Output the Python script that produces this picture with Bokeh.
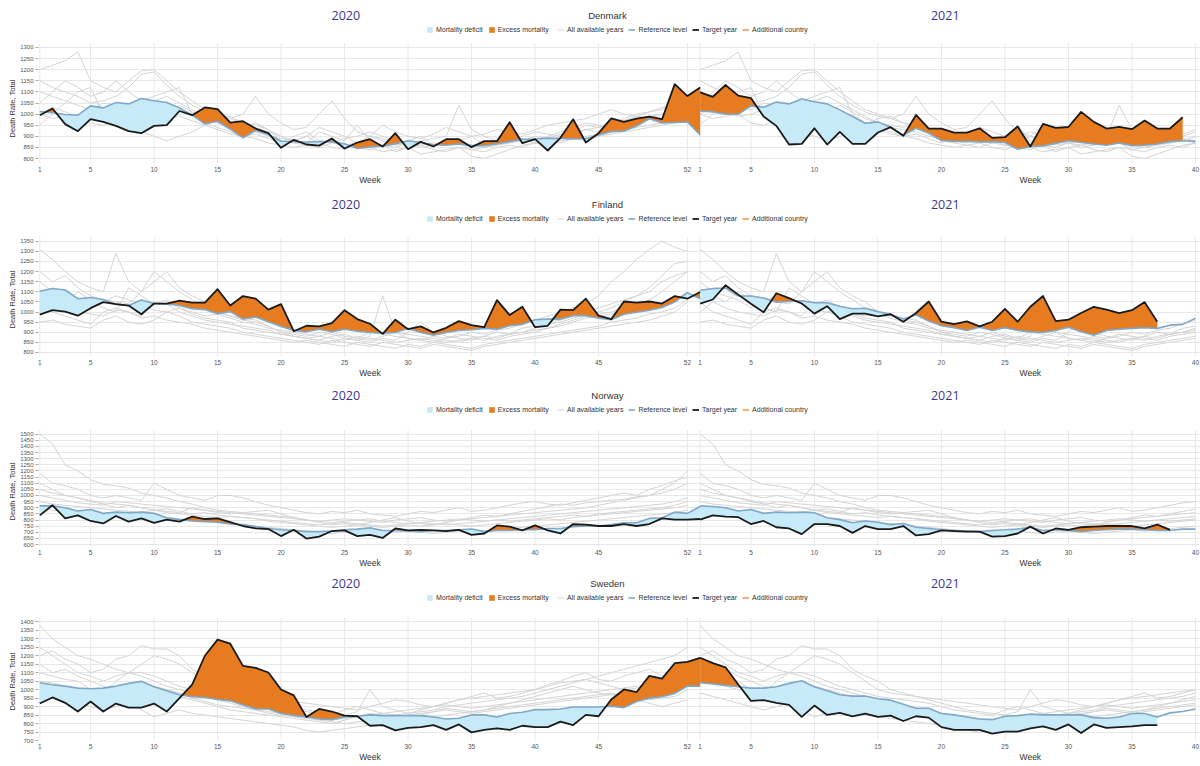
import numpy as np
from bokeh.plotting import figure
from bokeh.layouts import column
from bokeh.models import (Range1d, FixedTicker, Label, Legend, LegendItem,
                          LinearAxis, Title)
from bokeh.embed import file_html
from bokeh.resources import INLINE

# week ticks of the two panels, the 2021 weeks are drawn after the 2020 ones
ticks_2020 = [1, 5, 10, 15, 20, 25, 30, 35, 40, 45, 52]
ticks_2021 = [1, 5, 10, 15, 20, 25, 30, 35, 40]

# ---- Denmark ----
dk_target_2020 = [995, 1025, 955, 923, 977, 965, 947, 923, 914, 947,
                  950, 1014, 995, 1030, 1022, 962, 968, 935, 914, 848,
                  884, 863, 858, 890, 845, 872, 887, 854, 914, 842,
                  875, 854, 887, 887, 851, 878, 878, 963, 869, 887,
                  836, 893, 977, 872, 914, 981, 965, 980, 989, 977,
                  1135, 1081, 1120]
dk_ref_2020 = [1012, 1006, 998, 995, 1037, 1028, 1052, 1046, 1070, 1060,
               1052, 1028, 995, 956, 968, 932, 893, 926, 908, 878,
               876, 874, 876, 876, 866, 845, 852, 856, 866, 880,
               872, 862, 860, 866, 858, 858, 866, 876, 886, 888,
               892, 890, 888, 890, 906, 921, 924, 946, 979, 960,
               962, 965, 906]
dk_target_2021 = [1098, 1078, 1131, 1083, 1072, 989, 947, 863, 866, 936,
                  863, 920, 866, 866, 917, 941, 902, 996, 935, 935,
                  917, 917, 936, 893, 896, 944, 854, 956, 938, 942,
                  1010, 965, 935, 942, 932, 971, 935, 935, 986]
dk_ref_2021 = [1014, 1010, 1000, 999, 1037, 1031, 1054, 1046, 1068, 1056,
               1046, 1019, 989, 959, 965, 941, 905, 936, 914, 881,
               877, 877, 875, 876, 872, 842, 854, 857, 868, 880,
               872, 865, 860, 870, 858, 860, 865, 876, 880, 877]
dk_years = [
    [1200, 1220, 1240, 1280, 1150, 1120, 1100, 1150, 1195, 1200,
     1150, 1100, 1060, 1020, 1000, 980, 960, 950, 930, 900,
     880, 900, 870, 880, 860, 870, 900, 880, 860, 870,
     850, 860, 880, 870, 840, 850, 860, 870, 880, 900,
     890, 910, 920, 930, 940, 950, 960, 980, 990, 1000, 1010, 1000],
    [1150, 1120, 1100, 1080, 1050, 1060, 1080, 1120, 1180, 1190,
     1130, 1080, 1040, 1010, 990, 980, 1000, 1080, 1000, 960,
     930, 940, 1000, 1060, 980, 920, 900, 890, 870, 880,
     900, 860, 870, 880, 900, 860, 870, 880, 890, 870,
     880, 900, 910, 930, 920, 950, 970, 990, 980, 1000, 1020, 1040],
    [1100, 1080, 1060, 1040, 1020, 1050, 1040, 1030, 1020, 1060,
     1080, 1050, 1020, 990, 960, 940, 930, 920, 900, 890,
     880, 870, 920, 900, 880, 950, 880, 860, 850, 870,
     880, 890, 900, 1040, 930, 900, 880, 870, 900, 920,
     910, 900, 920, 950, 940, 960, 980, 1000, 1010, 1030, 1040, 1050],
    [1000, 980, 990, 1000, 960, 950, 970, 1000, 980, 990,
     1000, 1040, 1010, 980, 960, 950, 940, 960, 930, 880,
     870, 860, 850, 870, 860, 850, 840, 860, 830, 850,
     820, 830, 840, 850, 810, 800, 820, 840, 860, 870,
     880, 870, 890, 900, 910, 920, 930, 940, 950, 960, 970, 980],
    [950, 1000, 1050, 1100, 1120, 1000, 960, 940, 920, 900,
     880, 900, 920, 950, 980, 990, 960, 940, 920, 900,
     880, 900, 940, 920, 900, 870, 900, 950, 920, 900,
     890, 910, 940, 920, 900, 910, 930, 920, 910, 930,
     950, 960, 970, 980, 1000, 1020, 1000, 990, 980, 970, 960, 980],
    [1050, 1100, 1150, 1120, 1080, 1100, 1150, 1100, 1060, 1080,
     1100, 1120, 1000, 960, 940, 920, 900, 910, 890, 870,
     900, 920, 880, 870, 890, 900, 920, 900, 880, 870,
     860, 870, 860, 880, 860, 850, 870, 900, 890, 880,
     900, 920, 940, 960, 950, 940, 970, 990, 1010, 1020, 1050, 1080],
    [1000, 1030, 1010, 990, 1000, 1020, 1000, 990, 1010, 1000,
     980, 990, 970, 950, 930, 910, 900, 890, 870, 860,
     850, 860, 870, 850, 840, 860, 850, 830, 840, 850,
     860, 840, 830, 850, 840, 830, 850, 860, 850, 870,
     860, 880, 890, 880, 900, 910, 920, 930, 940, 950, 960, 1000],
]
dk_yticks = list(range(800, 1301, 50))

# ---- Finland ----
fi_target_2020 = [987, 1009, 1002, 982, 1019, 1049, 1039, 1032, 989, 1042,
                  1042, 1056, 1046, 1046, 1113, 1032, 1079, 1066, 1012, 1039,
                  905, 932, 929, 945, 1009, 965, 942, 892, 962, 915,
                  929, 899, 922, 955, 935, 925, 1059, 985, 1026, 925,
                  932, 1012, 1009, 1066, 982, 965, 1052, 1046, 1052, 1042,
                  1079, 1066, 1099]
fi_ref_2020 = [1103, 1116, 1109, 1066, 1072, 1062, 1039, 1032, 1059, 1042,
               1040, 1032, 1016, 1012, 992, 1002, 965, 975, 952, 929,
               909, 902, 915, 902, 915, 905, 899, 895, 899, 918,
               899, 885, 899, 909, 912, 919, 915, 932, 939, 962,
               965, 965, 982, 982, 969, 962, 989, 999, 1009, 1022,
               1049, 1096, 1066]
fi_target_2021 = [1042, 1062, 1133, 1086, 1041, 999, 1093, 1069, 1042, 992,
                  1029, 965, 992, 992, 979, 989, 952, 995, 1052, 952,
                  940, 954, 929, 952, 1016, 952, 1026, 1079, 955, 962,
                  995, 1026, 1012, 995, 1009, 1049, 952]
fi_ref_2021 = [1108, 1116, 1119, 1079, 1079, 1069, 1049, 1052, 1056, 1046,
               1046, 1029, 1016, 1019, 1002, 989, 965, 985, 955, 932,
               922, 909, 925, 909, 922, 909, 902, 899, 909, 925,
               902, 885, 909, 915, 919, 922, 919, 935, 939, 969]
fi_years = [
    [1310, 1260, 1200, 1150, 1120, 1100, 1290, 1150, 1100, 1150,
     1200, 1120, 1080, 1050, 1000, 980, 960, 950, 930, 900,
     880, 870, 860, 850, 870, 860, 880, 1080, 900, 870,
     860, 850, 870, 880, 900, 890, 910, 920, 940, 960,
     980, 1000, 1020, 1040, 1080, 1150, 1200, 1260, 1310, 1350, 1320, 1300],
    [1200, 1150, 1180, 1120, 1080, 1060, 1050, 1040, 1100, 1200,
     1150, 1100, 1060, 1020, 1000, 980, 970, 960, 930, 900,
     890, 880, 900, 890, 870, 860, 850, 870, 860, 900,
     950, 900, 880, 870, 860, 880, 900, 890, 920, 930,
     950, 960, 980, 1000, 1020, 1040, 1060, 1080, 1120, 1180, 1240, 1250],
    [1050, 1000, 980, 960, 940, 1000, 1020, 1000, 980, 1050,
     1040, 1000, 980, 960, 950, 940, 930, 920, 910, 890,
     880, 870, 860, 880, 890, 870, 860, 880, 900, 890,
     880, 870, 860, 850, 870, 860, 880, 890, 900, 910,
     920, 930, 950, 970, 980, 990, 1000, 1010, 1020, 1040, 1060, 1100],
    [950, 960, 940, 930, 920, 960, 980, 950, 940, 960,
     1000, 980, 950, 940, 930, 920, 900, 890, 880, 870,
     860, 850, 840, 860, 850, 840, 830, 850, 840, 830,
     820, 840, 830, 820, 810, 830, 840, 850, 860, 870,
     880, 890, 900, 910, 920, 930, 940, 950, 960, 980, 1000, 1050],
    [1100, 1080, 1050, 1100, 1060, 1020, 1000, 1120, 1080, 1040,
     1060, 1020, 1000, 980, 990, 970, 950, 940, 920, 910,
     900, 890, 880, 900, 880, 870, 900, 890, 880, 870,
     860, 880, 870, 890, 880, 870, 860, 880, 890, 900,
     920, 940, 960, 980, 990, 1000, 1020, 1040, 1060, 1100, 1150, 1200],
    [1150, 1100, 1080, 1060, 1020, 1050, 1080, 1060, 1040, 1010,
     1000, 1020, 990, 970, 960, 950, 920, 910, 900, 890,
     880, 870, 880, 870, 860, 880, 870, 860, 850, 860,
     870, 860, 850, 860, 870, 880, 870, 890, 900, 920,
     940, 950, 970, 990, 1000, 1020, 1050, 1080, 1100, 1150, 1180, 1200],
    [1000, 1050, 1020, 1000, 990, 980, 1010, 1000, 970, 980,
     960, 950, 940, 920, 910, 900, 890, 880, 870, 860,
     850, 860, 850, 840, 830, 850, 840, 830, 820, 840,
     830, 850, 840, 830, 820, 840, 850, 860, 870, 880,
     890, 900, 910, 920, 930, 950, 960, 970, 990, 1000, 1020, 1060],
]
fi_yticks = list(range(800, 1351, 50))

# ---- Norway ----
no_target_2020 = [838, 920, 813, 838, 792, 772, 833, 787, 813, 777,
                  803, 787, 828, 808, 813, 782, 751, 731, 726, 669,
                  720, 649, 664, 710, 715, 669, 679, 654, 731, 715,
                  720, 715, 710, 720, 679, 690, 756, 746, 715, 756,
                  715, 690, 767, 762, 751, 751, 767, 751, 767, 813,
                  803, 803, 808]
no_ref_2020 = [915, 915, 900, 874, 885, 854, 864, 859, 864, 854,
               818, 803, 792, 787, 782, 767, 762, 746, 731, 720,
               715, 705, 705, 710, 720, 726, 736, 715, 715, 710,
               705, 715, 715, 720, 726, 705, 715, 715, 720, 720,
               731, 731, 746, 751, 751, 762, 777, 777, 813, 818,
               864, 854, 910]
no_target_2021 = [803, 838, 828, 823, 767, 792, 741, 731, 685, 767,
                  767, 751, 695, 751, 726, 726, 751, 674, 685, 715,
                  710, 705, 705, 664, 669, 690, 746, 690, 731, 720,
                  741, 746, 751, 751, 751, 731, 762, 720]
no_ref_2021 = [915, 910, 900, 874, 885, 854, 864, 859, 864, 859,
               818, 803, 777, 792, 782, 762, 772, 741, 731, 720,
               715, 710, 705, 715, 720, 726, 741, 715, 720, 715,
               705, 715, 720, 726, 726, 720, 715, 715, 726, 726]
no_years = [
    [1500, 1420, 1250, 1200, 1130, 1090, 1080, 1060, 1020, 1000,
     980, 950, 930, 900, 880, 870, 860, 850, 840, 830,
     820, 800, 790, 800, 810, 800, 790, 780, 800, 810,
     820, 800, 790, 800, 810, 820, 830, 840, 850, 860,
     870, 880, 890, 900, 920, 940, 960, 980, 1000, 1050, 1100, 1200],
    [1180, 1100, 1080, 1050, 1000, 980, 1000, 980, 960, 1100,
     1050, 1000, 980, 960, 1000, 1000, 980, 950, 920, 900,
     880, 860, 850, 870, 860, 880, 850, 840, 830, 850,
     870, 860, 880, 900, 870, 880, 900, 920, 940, 950,
     930, 920, 940, 960, 980, 1000, 1020, 1000, 1050, 1080, 1120, 1150],
    [1000, 980, 960, 940, 930, 920, 950, 940, 930, 920,
     910, 900, 890, 880, 870, 860, 850, 840, 830, 820,
     810, 800, 790, 780, 790, 800, 810, 790, 780, 770,
     780, 790, 800, 810, 800, 790, 800, 810, 820, 830,
     840, 850, 860, 870, 880, 890, 900, 910, 920, 930, 950, 980],
    [900, 880, 870, 860, 850, 840, 860, 850, 840, 830,
     820, 810, 800, 790, 780, 770, 760, 750, 740, 730,
     720, 710, 700, 690, 700, 710, 700, 690, 700, 710,
     700, 690, 700, 710, 720, 710, 720, 730, 740, 750,
     760, 770, 780, 790, 800, 810, 820, 830, 840, 850, 860, 880],
    [1050, 1020, 1000, 980, 960, 940, 930, 920, 900, 880,
     870, 860, 900, 880, 860, 850, 860, 870, 880, 850,
     820, 800, 780, 760, 770, 760, 780, 800, 820, 790,
     770, 760, 780, 800, 820, 840, 830, 850, 870, 890,
     910, 930, 920, 940, 950, 960, 970, 990, 1000, 1020, 1050, 1100],
    [1100, 1050, 1000, 980, 950, 930, 900, 920, 900, 880,
     890, 870, 850, 860, 840, 830, 820, 810, 800, 790,
     780, 770, 760, 770, 780, 770, 760, 750, 760, 770,
     780, 770, 760, 770, 780, 790, 800, 790, 800, 810,
     820, 830, 840, 830, 850, 860, 870, 880, 890, 900, 920, 950],
    [950, 930, 920, 910, 900, 890, 880, 870, 860, 880,
     860, 850, 840, 830, 820, 830, 820, 810, 790, 780,
     770, 760, 750, 740, 750, 760, 750, 740, 750, 760,
     750, 760, 770, 760, 750, 760, 770, 780, 790, 800,
     810, 800, 820, 830, 840, 850, 860, 870, 880, 890, 900, 920],
]
no_yticks = list(range(600, 1501, 50))

# ---- Sweden ----
se_target_2020 = [918, 954, 922, 871, 930, 871, 918, 894, 894, 918,
                  871, 950, 1029, 1200, 1295, 1271, 1140, 1128, 1101, 1001,
                  966, 839, 886, 871, 847, 843, 787, 791, 760, 775,
                  779, 791, 763, 795, 748, 763, 771, 763, 787, 779,
                  779, 811, 791, 851, 843, 942, 1001, 986, 1081, 1065,
                  1156, 1164, 1188]
se_ref_2020 = [1041, 1029, 1021, 1009, 1005, 1009, 1021, 1037, 1049, 1017,
               993, 970, 958, 954, 942, 934, 910, 886, 886, 859,
               847, 839, 827, 823, 839, 843, 851, 847, 847, 847,
               847, 839, 827, 831, 851, 851, 839, 859, 867, 882,
               882, 886, 898, 898, 898, 902, 894, 930, 950, 958,
               978, 1021, 1021]
se_target_2021 = [1188, 1156, 1132, 1030, 934, 938, 922, 910, 839, 906,
                  851, 863, 843, 859, 839, 847, 815, 843, 835, 779,
                  763, 763, 763, 740, 752, 752, 771, 783, 763, 795,
                  744, 795, 775, 779, 783, 791, 791]
se_ref_2021 = [1041, 1033, 1025, 1017, 1009, 1009, 1017, 1037, 1053, 1017,
               993, 970, 962, 962, 946, 938, 914, 890, 890, 859,
               851, 839, 827, 823, 843, 847, 855, 851, 851, 851,
               851, 835, 831, 839, 859, 859, 839, 863, 871, 886]
se_years = [
    [1380, 1300, 1250, 1200, 1180, 1150, 1120, 1100, 1100, 1080,
     1050, 1020, 1000, 980, 960, 950, 940, 930, 920, 900,
     880, 870, 860, 850, 880, 900, 880, 860, 850, 860,
     870, 880, 900, 910, 920, 930, 940, 950, 960, 980,
     1000, 1020, 1040, 1060, 1080, 1100, 1120, 1140, 1160, 1180, 1200, 1250],
    [1200, 1230, 1180, 1150, 1100, 1120, 1180, 1200, 1260, 1240,
     1240, 1200, 1120, 1080, 1050, 1000, 980, 960, 940, 920,
     900, 880, 870, 860, 850, 870, 1000, 900, 880, 860,
     880, 900, 920, 940, 960, 980, 950, 960, 980, 1000,
     1030, 1050, 1080, 1100, 1060, 1050, 1080, 1100, 1120, 1080, 1100, 1150],
    [1100, 1080, 1060, 1050, 1000, 980, 1050, 1100, 1150, 1200,
     1180, 1150, 1100, 1050, 1000, 980, 970, 960, 950, 940,
     930, 920, 910, 900, 890, 880, 900, 920, 940, 930,
     910, 900, 920, 940, 950, 960, 970, 980, 990, 1000,
     1020, 1040, 1050, 1060, 1040, 1020, 1000, 1010, 1020, 1040, 1060, 1080],
    [980, 960, 940, 920, 900, 880, 900, 920, 880, 840,
     860, 880, 860, 850, 840, 830, 820, 810, 800, 790,
     780, 760, 750, 760, 770, 780, 790, 800, 810, 820,
     830, 840, 850, 860, 870, 880, 890, 900, 910, 920,
     930, 940, 950, 960, 970, 980, 960, 940, 920, 900, 920, 940],
    [1050, 1040, 1020, 1000, 990, 1000, 1010, 1020, 1050, 1000,
     980, 960, 940, 920, 900, 880, 870, 860, 850, 840,
     830, 820, 810, 800, 820, 840, 860, 850, 840, 830,
     850, 870, 890, 880, 870, 880, 900, 920, 940, 960,
     980, 1000, 1020, 1000, 980, 970, 960, 950, 940, 950, 960, 1000],
    [1250, 1200, 1150, 1100, 1080, 1050, 1080, 1100, 1080, 1050,
     1020, 1000, 980, 960, 940, 920, 900, 880, 870, 860,
     850, 840, 830, 820, 830, 840, 850, 860, 870, 880,
     890, 900, 910, 900, 890, 900, 910, 920, 930, 940,
     950, 960, 970, 980, 990, 1000, 1010, 1020, 1030, 1050, 1080, 1100],
    [1150, 1100, 1120, 1080, 1050, 1020, 1000, 980, 1000, 1020,
     1000, 980, 950, 930, 910, 900, 890, 880, 860, 850,
     840, 830, 820, 810, 800, 810, 820, 830, 840, 850,
     860, 870, 880, 870, 860, 870, 880, 890, 900, 910,
     920, 930, 940, 950, 960, 970, 980, 990, 1000, 1010, 1020, 1040],
]
se_yticks = list(range(700, 1401, 50))

ORANGE = "#e77b1f"
BLUE_FILL = "#c7eaf8"
REF_COLOR = "#7ea7c8"
GRAY = "#d4d4d4"
GRID = "#e8e8e8"
TITLE_COLOR = "#3a358f"
FONT = "Liberation Sans"
LEFT = 38  # px left of the frame, for the y axis


def split_fill(x, target, ref):
    # add the crossing points so the two fills meet exactly
    xs, t, r = [], [], []
    for i in range(len(target)):
        if i > 0:
            d0 = target[i - 1] - ref[i - 1]
            d1 = target[i] - ref[i]
            if d0 * d1 < 0:
                f = d0 / (d0 - d1)
                xs.append(x[i - 1] + f * (x[i] - x[i - 1]))
                yc = ref[i - 1] + f * (ref[i] - ref[i - 1])
                t.append(yc)
                r.append(yc)
        xs.append(x[i])
        t.append(target[i])
        r.append(ref[i])
    t = np.array(t, dtype=float)
    r = np.array(r, dtype=float)
    return np.array(xs), np.maximum(t, r), np.minimum(t, r), r


def no_ticks(axis):
    axis.major_tick_out = 0
    axis.major_tick_in = 0
    axis.minor_tick_out = 0
    axis.minor_tick_in = 0
    axis.major_tick_line_color = None
    axis.minor_tick_line_color = None
    axis.axis_line_color = None


def country_row(country, t20, r20, t21, r21, years, yticks, ylo, yhi,
                height, top, fb, title_c, legend_c, ylab_off):
    # the frame reaches the top of the figure so the headings stay inside it;
    # the data part starts `top` px down
    k = (fb - top) / (yhi - ylo)
    p = figure(width=1200, height=height, x_range=Range1d(0.9, 92.4),
               y_range=Range1d(ylo, yhi + top / k), output_backend="svg",
               toolbar_location=None, min_border_left=LEFT, min_border_right=0,
               min_border_top=0, min_border_bottom=height - fb)
    p.outline_line_color = None
    p.xgrid.visible = False
    p.ygrid.grid_line_color = GRID

    xt = ticks_2020 + [52 + w for w in ticks_2021]
    p.segment(x0=xt, y0=ylo, x1=xt, y1=yhi, color=GRID, line_width=1)

    p.xaxis.ticker = FixedTicker(ticks=xt)
    p.xaxis.major_label_overrides = {52 + w: str(w) for w in ticks_2021}
    no_ticks(p.xaxis[0])
    p.xaxis.major_label_standoff = 3
    p.xaxis.major_label_text_font = FONT
    p.xaxis.major_label_text_font_size = "6.5px"
    p.xaxis.major_label_text_color = "#555555"

    week_axis = LinearAxis(ticker=FixedTicker(ticks=[27, 79]),
                           major_label_overrides={27: "Week", 79: "Week"},
                           major_label_standoff=0, major_label_text_font=FONT,
                           major_label_text_font_size="8.5px",
                           major_label_text_color="#333333")
    no_ticks(week_axis)
    p.add_layout(week_axis, "below")

    p.yaxis.ticker = FixedTicker(ticks=yticks)
    p.yaxis.bounds = (ylo, yhi)
    p.yaxis.major_label_text_font = FONT
    p.yaxis.major_label_text_font_size = "6px"
    p.yaxis.major_label_text_color = "#555555"
    p.yaxis.major_label_standoff = 2
    p.yaxis.major_tick_out = 3
    p.yaxis.major_tick_in = 0
    p.yaxis.minor_tick_out = 0
    p.yaxis.minor_tick_in = 0
    p.yaxis.major_tick_line_color = "#aaaaaa"
    p.yaxis.minor_tick_line_color = None
    p.yaxis.axis_line_color = None
    p.add_layout(Title(text="Death Rate, Total", align="left", offset=ylab_off,
                       standoff=2, text_font=FONT, text_font_size="7.5px",
                       text_font_style="normal", text_color="#333333"), "left")

    gray_r = None
    for g in years:
        r = p.line(list(range(1, len(g) + 1)), g, color=GRAY, line_width=1)
        p.line([52 + w for w in range(1, 41)], g[:40], color=GRAY, line_width=1)
        gray_r = gray_r or r

    for t, r, off in ((t20, r20, 0), (t21, r21, 52)):
        x = [off + w for w in range(1, len(t) + 1)]
        xs, hi, lo, rr = split_fill(x, t, r[:len(t)])
        exc = p.varea(x=xs, y1=rr, y2=hi, fill_color=ORANGE)
        dfc = p.varea(x=xs, y1=lo, y2=rr, fill_color=BLUE_FILL)

    ref_r = None
    for r, off in ((r20, 0), (r21, 52)):
        ref_r = p.line([off + w for w in range(1, len(r) + 1)], r,
                       color=REF_COLOR, line_width=1.6)
    tgt_r = None
    for t, off in ((t20, 0), (t21, 52)):
        tgt_r = p.line([off + w for w in range(1, len(t) + 1)], t,
                       color="#1a1a1a", line_width=1.8, line_join="round")
    # no additional country is selected: the series is empty
    add_r = p.line(x=[np.nan], y=[np.nan], color="#f2b07a", line_width=2)

    def sy(y_local):
        # screen y is measured up from the bottom of the frame
        return fb - y_local

    style = dict(orientation="horizontal", label_text_font=FONT,
                 label_text_font_size="7px", label_text_color="#333333",
                 glyph_width=7, glyph_height=7, label_standoff=3, spacing=5,
                 label_height=8, label_width=10, padding=0, margin=0,
                 background_fill_alpha=0, border_line_color=None)
    leg1 = Legend(items=[LegendItem(label="Mortality deficit", renderers=[dfc]),
                         LegendItem(label="Excess mortality", renderers=[exc])],
                  location=(426 - LEFT, sy(legend_c + 4)), **style)
    leg2 = Legend(items=[LegendItem(label="All available years", renderers=[gray_r]),
                         LegendItem(label="Reference level", renderers=[ref_r]),
                         LegendItem(label="Target year", renderers=[tgt_r]),
                         LegendItem(label="Additional country", renderers=[add_r])],
                  location=(557 - LEFT, sy(legend_c + 4)), **style)
    p.add_layout(leg1)
    p.add_layout(leg2)

    for txt, xv in (("2020", 25.1), ("2021", 72.3)):
        p.add_layout(Label(x=xv, y=sy(title_c), y_units="screen", text=txt,
                           text_align="center", text_baseline="middle",
                           text_font="Open Sans", text_font_size="12.5px",
                           text_color=TITLE_COLOR))
    p.add_layout(Label(x=45.7, y=sy(title_c), y_units="screen", text=country,
                       text_align="center", text_baseline="middle",
                       text_font=FONT, text_font_size="9.5px", text_color="#333333"))
    return p


p_dk = country_row("Denmark", dk_target_2020, dk_ref_2020, dk_target_2021, dk_ref_2021,
                   dk_years, dk_yticks, 777.5, 1318, 190, 43, 163, 15, 29, 26)
p_fi = country_row("Finland", fi_target_2020, fi_ref_2020, fi_target_2021, fi_ref_2021,
                   fi_years, fi_yticks, 780, 1370, 190, 47, 167, 15, 29, 28)
p_no = country_row("Norway", no_target_2020, no_ref_2020, no_target_2021, no_ref_2021,
                   no_years, no_yticks, 584, 1532, 190, 50, 167, 16, 30, 26)
p_se = country_row("Sweden", se_target_2020, se_ref_2020, se_target_2021, se_ref_2021,
                   se_years, se_yticks, 700, 1423, 194, 48, 172, 15, 29, 30)

p = column(p_dk, p_fi, p_no, p_se)
open("out.html", "w").write(file_html(p, INLINE))
